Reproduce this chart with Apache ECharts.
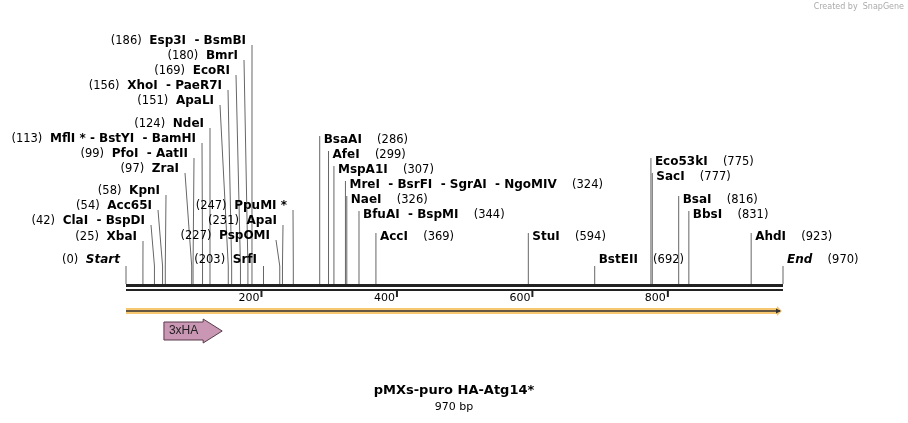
<!DOCTYPE html>
<html><head><meta charset="utf-8">
<script src="https://cdn.jsdelivr.net/npm/echarts@6/dist/echarts.min.js"></script>
<style>html,body{margin:0;padding:0;background:#fff}#c{width:908px;height:423px}</style>
</head><body><div id="c"></div>
<script>
const seqLength = 970;
const siteNames = ['Start','XbaI','ClaI  - BspDI','Acc65I','KpnI','ZraI','PfoI  - AatII','MflI * - BstYI  - BamHI','NdeI','ApaLI','XhoI  - PaeR7I','EcoRI','BmrI','Esp3I  - BsmBI',
 'SrfI','PspOMI','ApaI','PpuMI *',
 'BsaAI','AfeI','MspA1I','MreI  - BsrFI  - SgrAI  - NgoMIV','NaeI','BfuAI  - BspMI','AccI','StuI','BstEII','Eco53kI','SacI','BsaI','BbsI','AhdI','End'];
const sitePositions = [0,25,42,54,58,97,99,113,124,151,156,169,180,186,
 203,227,231,247,
 286,299,307,324,326,344,369,594,692,775,777,816,831,923,970];
const tickValues = [200,400,600,800];
const featureName = '3xHA';
const featureStart = 56;
const featureEnd = 142;
// label layout: [rowY, anchorX, side]
const labelLayout = [
 [260,126,'L'],[237,143,'L'],[221,151,'L'],[206,158,'L'],[191,166,'L'],[169,185,'L'],[154,194,'L'],[139,202,'L'],[124,210,'L'],[101,220,'L'],[86,228,'L'],[71,236,'L'],[56,244,'L'],[41,252,'L'],
 [260,263,'L'],[236,276,'L'],[221,283,'L'],[206,293,'L'],
 [140,319,'R'],[155,324,'R'],[170,333,'R'],[185,341,'R'],[200,349,'R'],[215,357,'R'],[237,375,'R'],[237,526,'R'],[260,593,'R'],[162,650,'R'],[177,656,'R'],[200,677,'R'],[215,686,'R'],[237,748,'R'],[260,780,'R']
];
const FONT = 'DejaVu Sans, Verdana, sans-serif';
const BAR_Y = 285;
const chart = echarts.init(document.getElementById('c'));
chart.setOption({
 animation:false,
 grid:{left:126,right:908-783,top:100,bottom:423-BAR_Y},
 xAxis:{type:'value',min:0,max:seqLength,show:false},
 yAxis:{type:'value',min:0,max:1,show:false},
 graphic:[
  {type:'text',right:4,top:3,style:{text:'Created by  SnapGene',fontSize:8,fill:'#aaa',fontFamily:FONT}},
  {type:'text',x:454,y:391,style:{text:'pMXs-puro HA-Atg14*',fontSize:13,fontWeight:'bold',fill:'#000',align:'center',verticalAlign:'middle',fontFamily:FONT}},
  {type:'text',x:454,y:407,style:{text:'970 bp',fontSize:11,fill:'#000',align:'center',verticalAlign:'middle',fontFamily:FONT}}
 ],
 series:[
  {type:'custom',coordinateSystem:'cartesian2d',data:sitePositions.map((p,i)=>[p,i]),
   renderItem:function(params,api){
    const i=api.value(1), pos=api.value(0);
    const sx=api.coord([pos,0])[0];
    let [ly,ax,side]=labelLayout[i];
    if(side==='R' && Math.abs(ax-sx)<6) ax=sx;
    const name=siteNames[i];
    const italic = (name==='Start'||name==='End');
    const children=[];
    const pts = [[ax,ly+(side==='L'?4:-4)],[sx,266],[sx,BAR_Y-1]];
    if(ly>=255) pts[0]=[sx,ly+6];
    children.push({type:'polyline',shape:{points:pts},style:{stroke:'#666',lineWidth:1,fill:null}});
    const nameStyle={fontWeight:'bold',fontSize:12,fontStyle:italic?'italic':'normal',fill:'#000',fontFamily:FONT};
    const numStyle={fontSize:11.5,fill:'#000',fontFamily:FONT};
    let text, x, align;
    if(side==='L'){ text='{n|('+pos+')}  {b|'+name+'}'; x=ax-6; align='right'; }
    else { text='{b|'+name+'}    {n|('+pos+')}'; x=ax+4; align='left'; }
    children.push({type:'text',x:x,y:ly,style:{text:text,align:align,verticalAlign:'middle',rich:{b:nameStyle,n:numStyle},fontFamily:FONT}});
    return {type:'group',children:children};
   }},
  {type:'custom',coordinateSystem:'cartesian2d',data:[[0,seqLength]],
   renderItem:function(params,api){
    const x0=api.coord([api.value(0),0])[0], x1=api.coord([api.value(1),0])[0];
    const ch=[
     {type:'rect',shape:{x:x0,y:BAR_Y-1,width:x1-x0,height:3},style:{fill:'#222'}},
     {type:'rect',shape:{x:x0,y:BAR_Y+4,width:x1-x0,height:2},style:{fill:'#222'}},
     {type:'rect',shape:{x:x0,y:308,width:x1-x0-4,height:6},style:{fill:'#f7c870'}},
     {type:'polygon',shape:{points:[[x1-6,306],[x1-1,311],[x1-6,316]]},style:{fill:'#f7c870'}},
     {type:'line',shape:{x1:x0,y1:311,x2:x1-3,y2:311},style:{stroke:'#333',lineWidth:1.5}},
     {type:'polygon',shape:{points:[[x1-7,308.5],[x1-2,311],[x1-7,313.5]]},style:{fill:'#333'}}
    ];
    return {type:'group',children:ch};
   }},
  {type:'custom',coordinateSystem:'cartesian2d',data:tickValues.map(v=>[v]),
   renderItem:function(params,api){
    const x=api.coord([api.value(0),0])[0];
    return {type:'group',children:[
     {type:'rect',shape:{x:x-1,y:BAR_Y+6,width:2,height:6},style:{fill:'#222'}},
     {type:'text',x:x-2,y:BAR_Y+13,style:{text:String(api.value(0)),align:'right',verticalAlign:'middle',fontSize:11,fill:'#000',fontFamily:FONT}}
    ]};
   }},
  {type:'custom',coordinateSystem:'cartesian2d',data:[[featureStart,featureEnd]],
   renderItem:function(params,api){
    const x0=api.coord([api.value(0),0])[0], x1=api.coord([api.value(1),0])[0];
    const head=x1-19;
    return {type:'group',children:[
     {type:'polygon',shape:{points:[[x0,322],[head,322],[head,319],[x1,331],[head,343],[head,340],[x0,340]]},style:{fill:'#c996b3',stroke:'#5a3a4a',lineWidth:1}},
     {type:'text',x:x0+5,y:331,style:{text:featureName,verticalAlign:'middle',fontSize:12,fill:'#222',fontFamily:'Liberation Sans Narrow, Liberation Sans, sans-serif'}}
    ]};
   }}
 ]
});
</script></body></html>
